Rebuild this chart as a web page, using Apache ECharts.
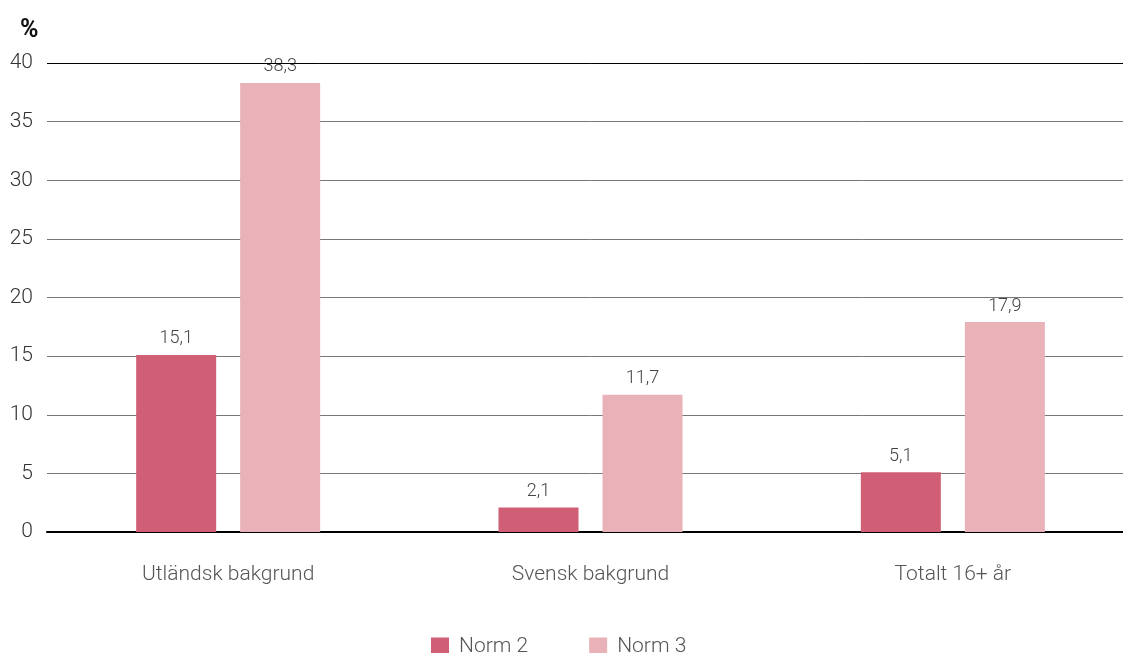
<!DOCTYPE html>
<html><head><meta charset="utf-8">
<script src="https://cdn.jsdelivr.net/npm/echarts@6/dist/echarts.min.js"></script>
<style>html,body{margin:0;padding:0;background:#fff;overflow:hidden;width:1123px;height:653px}#c{width:1134px;height:653px}</style>
</head><body><div id="c"></div>
<script>
const categories = ['Utländsk bakgrund', 'Svensk bakgrund', 'Totalt 16+ år'];
const norm2 = [15.1, 2.1, 5.1];
const norm3 = [38.3, 11.7, 17.9];
const seriesNames = ['Norm 2', 'Norm 3'];
const yTicks = [0, 5, 10, 15, 20, 25, 30, 35, 40];

const chart = echarts.init(document.getElementById('c'));
const font = 'Roboto';
const lbl = {show: true, position: 'top', distance: 7, color: '#444', fontFamily: font, fontWeight: 300, fontSize: 18,
  formatter: p => String(p.value).replace('.', ',')};
chart.setOption({
  animation: false,
  textStyle: {fontFamily: font},
  title: {text: '%', left: 15, top: 13, textStyle: {fontFamily: font, fontWeight: 'bold', fontSize: 25, color: '#111'}},
  legend: {top: 631, left: 426, itemWidth: 18, itemHeight: 18, itemGap: 61, icon: 'rect',
    textStyle: {fontFamily: font, fontWeight: 300, fontSize: 21, color: '#555', padding: [0, 0, 0, 5]}, data: seriesNames},
  grid: {left: 47, right: 0, top: 63, bottom: 121, containLabel: false},
  xAxis: {type: 'category', data: categories,
    axisLine: {show: true, lineStyle: {color: '#000', width: 2}}, axisTick: {show: false},
    axisLabel: {color: '#555', fontFamily: font, fontWeight: 300, fontSize: 21, margin: 32}},
  yAxis: {type: 'value', min: yTicks[0], max: yTicks[yTicks.length - 1], interval: 5,
    axisLine: {show: false}, axisTick: {show: false},
    axisLabel: {color: '#333', fontFamily: font, fontWeight: 300, fontSize: 21, margin: 14},
    splitLine: {lineStyle: {color: '#777', width: 1}}},
  series: [
    {name: seriesNames[0], type: 'bar', data: norm2, barWidth: 80, barGap: '30%', itemStyle: {color: '#d05f75'}, label: lbl},
    {name: seriesNames[1], type: 'bar', data: norm3, barWidth: 80, barGap: '30%', itemStyle: {color: '#e9b2b8'}, label: lbl}
  ],
  graphic: [{type: 'line', shape: {x1: 47, y1: 63.5, x2: 1134, y2: 63.5}, style: {stroke: '#000', lineWidth: 1}, z: 5}]
});
</script></body></html>
